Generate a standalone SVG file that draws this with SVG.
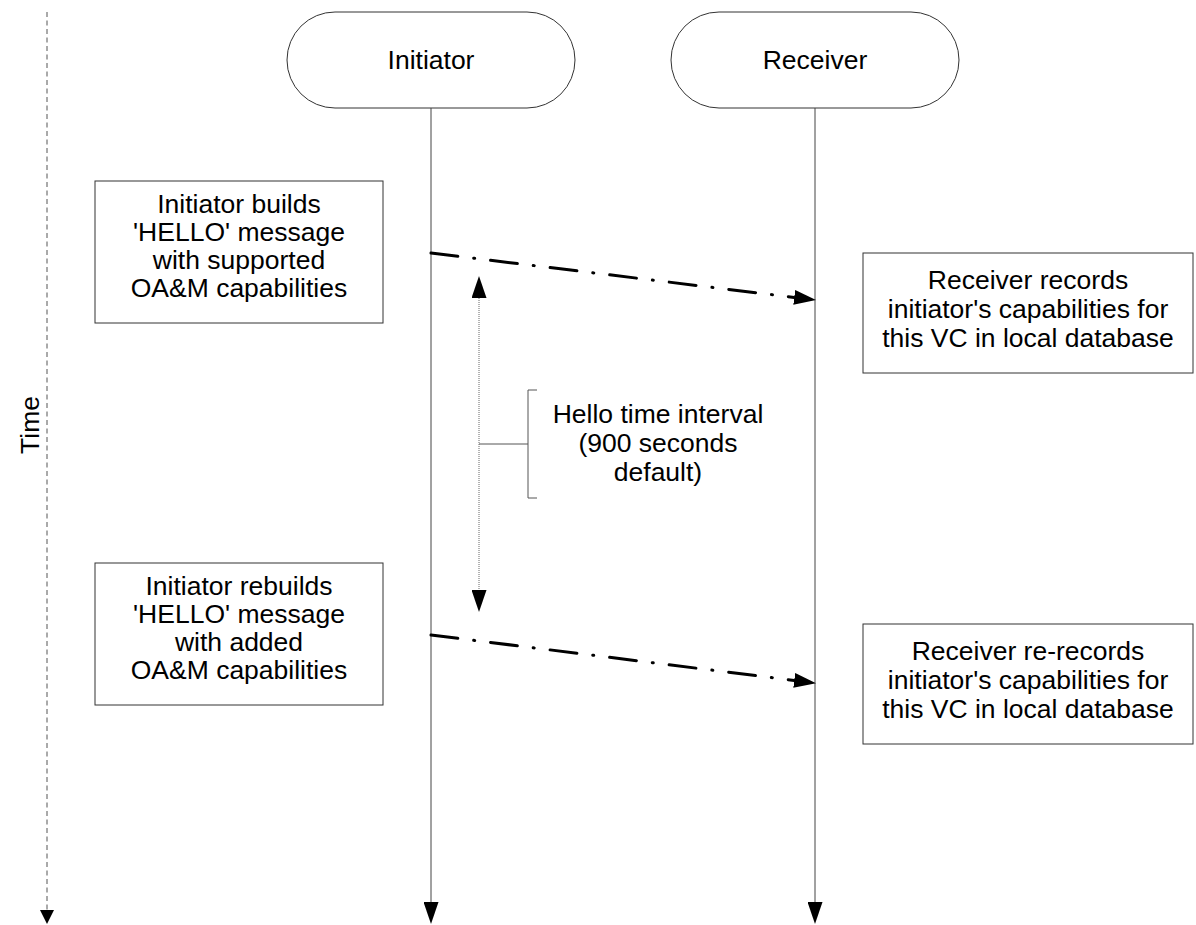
<svg xmlns="http://www.w3.org/2000/svg" width="1196" height="925" viewBox="0 0 1196 925">
  <defs>
    <style>
      .lbl { font-family: "Liberation Sans", Arial, sans-serif; font-size: 26.5px; fill: #000; text-anchor: middle; }
      .pill { fill: #fff; stroke: #333; stroke-width: 1; }
      .box { fill: #fff; stroke: #333; stroke-width: 1; }
      .life { stroke: #444; stroke-width: 1; fill: none; }
      .msg { stroke: #000; stroke-width: 3; fill: none; stroke-dasharray: 27 16 1 16; stroke-linecap: round; }
      .timeaxis { stroke: #555; stroke-width: 1; fill: none; stroke-dasharray: 5 3.5; }
      .interval { stroke: #666; stroke-width: 1; fill: none; stroke-dasharray: 1 1; }
      .brace { stroke: #555; stroke-width: 1; fill: none; }
    </style>
    <marker id="head" markerUnits="userSpaceOnUse" markerWidth="22" markerHeight="15" viewBox="0 0 22 15" refX="0" refY="7.5" orient="auto-start-reverse">
      <path d="M0,0 L22,7.5 L0,15 z" fill="#000"/>
    </marker>
    <marker id="headSmall" markerUnits="userSpaceOnUse" markerWidth="14" markerHeight="14" viewBox="0 0 14 14" refX="0" refY="7" orient="auto">
      <path d="M0,0 L14,7 L0,14 z" fill="#000"/>
    </marker>
  </defs>

  <!-- time axis -->
  <g id="time-axis">
    <line class="timeaxis" x1="47" y1="12" x2="47" y2="910" marker-end="url(#headSmall)"/>
    <text class="lbl" transform="translate(39,425) rotate(-90)">Time</text>
  </g>

  <!-- participants -->
  <g id="initiator">
    <rect class="pill" x="287" y="12" width="288" height="96" rx="48" ry="48"/>
    <text class="lbl" x="431" y="69">Initiator</text>
  </g>
  <g id="receiver">
    <rect class="pill" x="671" y="12" width="288" height="96" rx="48" ry="48"/>
    <text class="lbl" x="815" y="69">Receiver</text>
  </g>

  <!-- notes -->
  <g id="note-build">
    <rect class="box" x="95" y="181" width="288" height="142"/>
    <text class="lbl" x="239" y="213">Initiator builds</text>
    <text class="lbl" x="239" y="241">'HELLO' message</text>
    <text class="lbl" x="239" y="269">with supported</text>
    <text class="lbl" x="239" y="297">OA&amp;M capabilities</text>
  </g>
  <g id="note-record">
    <rect class="box" x="863" y="253" width="330" height="120"/>
    <text class="lbl" x="1028" y="289">Receiver records</text>
    <text class="lbl" x="1028" y="318">initiator's capabilities for</text>
    <text class="lbl" x="1028" y="347">this VC in local database</text>
  </g>
  <g id="note-rebuild">
    <rect class="box" x="95" y="563" width="288" height="142"/>
    <text class="lbl" x="239" y="595">Initiator rebuilds</text>
    <text class="lbl" x="239" y="623">'HELLO' message</text>
    <text class="lbl" x="239" y="651">with added</text>
    <text class="lbl" x="239" y="679">OA&amp;M capabilities</text>
  </g>
  <g id="note-rerecord">
    <rect class="box" x="863" y="624" width="330" height="120"/>
    <text class="lbl" x="1028" y="660">Receiver re-records</text>
    <text class="lbl" x="1028" y="689">initiator's capabilities for</text>
    <text class="lbl" x="1028" y="718">this VC in local database</text>
  </g>
  <g id="note-interval">
    <path class="brace" d="M537,390 H528 V498 H537 M528,444 H479"/>
    <text class="lbl" x="658" y="423">Hello time interval</text>
    <text class="lbl" x="658" y="452">(900 seconds</text>
    <text class="lbl" x="658" y="481">default)</text>
  </g>

  <!-- connectors -->
  <g id="connectors">
    <line class="life" x1="431" y1="108" x2="431" y2="902" marker-end="url(#head)"/>
    <line class="life" x1="815" y1="108" x2="815" y2="902" marker-end="url(#head)"/>
    <line class="msg" x1="431" y1="253" x2="794.2" y2="297.4" marker-end="url(#head)"/>
    <line class="msg" x1="431" y1="635" x2="794.2" y2="680.4" marker-end="url(#head)"/>
    <line class="interval" x1="479" y1="298" x2="479" y2="590" marker-start="url(#head)" marker-end="url(#head)"/>
  </g>
</svg>
